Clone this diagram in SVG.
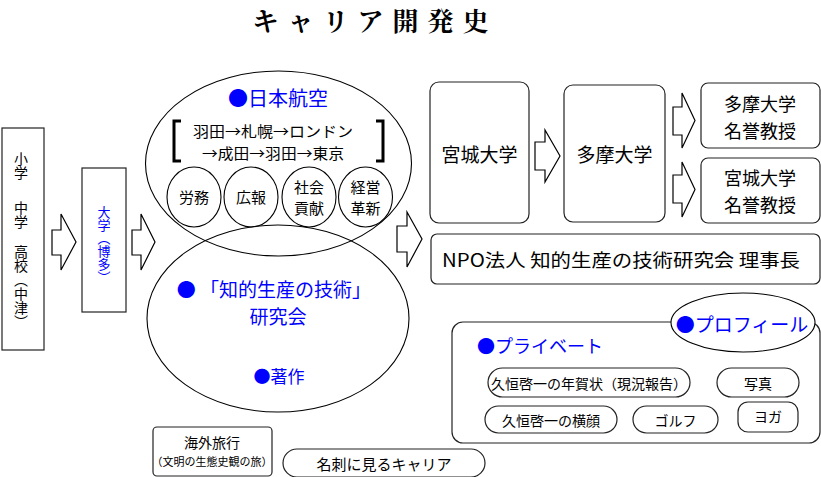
<svg xmlns="http://www.w3.org/2000/svg" width="821" height="477" viewBox="0 0 821 477">
<style>
text{font-family:"Noto Sans CJK JP","Noto Sans",sans-serif;fill:#000;dominant-baseline:central;text-anchor:middle}
.b{fill:#0000ff}
.box{fill:#fff;stroke:#222;stroke-width:1.2}
.ln{fill:none;stroke:#000;stroke-width:1.1}
.arr{fill:#fff;stroke:#000;stroke-width:1.2;stroke-linejoin:miter}
.v{writing-mode:vertical-rl;text-anchor:start;dominant-baseline:auto}
</style>
<rect width="821" height="477" fill="#fff"/>
<text id="title" x="375" y="19" style="font-family:'Noto Serif CJK JP','Noto Sans CJK JP',serif;font-weight:bold;font-size:26px;letter-spacing:9px">キャリア開発史</text>

<g id="connectors">
<path class="arr" d="M52,230 L61,230 L61,214 L76,242 L61,270 L61,255 L52,255 Z"/>
<path class="arr" d="M132,230 L141,230 L141,214 L155,242 L141,270 L141,255 L132,255 Z"/>
<path class="arr" d="M397,226 L407,226 L407,212 L422,239 L407,267 L407,252 L397,252 Z"/>
<path class="arr" d="M535,142 L545,142 L545,130 L560,156 L545,182 L545,170 L535,170 Z"/>
<path class="arr" d="M673,107 L682,107 L682,93 L695,120.5 L682,148 L682,135 L673,135 Z"/>
<path class="arr" d="M673,175 L682,175 L682,162 L695,189.5 L682,217 L682,203 L673,203 Z"/>
</g>

<g id="school">
<rect class="box" x="2" y="128" width="42" height="222"/>
<text class="v" x="21" y="152" style="font-size:14px">小学</text>
<text class="v" x="21" y="201" style="font-size:14px">中学</text>
<text class="v" x="21" y="245" style="font-size:14px">高校（中津）</text>
</g>

<g id="univ">
<rect class="box" x="82" y="168" width="44" height="144"/>
<text class="v b" x="104" y="206" style="font-size:13px">大学（博多）</text>
</g>

<g id="jal">
<ellipse class="ln" cx="278.5" cy="163.5" rx="133" ry="92.5"/>
<text class="b" x="278" y="97" style="font-size:20px">●日本航空</text>
<path d="M181,121 L174,121 L174,161 L181,161 M376,121 L383,121 L383,161 L376,161" fill="none" stroke="#000" stroke-width="3"/>
<text style="font-size:15px"><tspan x="273" y="130" textLength="160" lengthAdjust="spacingAndGlyphs">羽田→札幌→ロンドン</tspan><tspan x="273" y="152" textLength="142" lengthAdjust="spacingAndGlyphs">→成田→羽田→東京</tspan></text>
<ellipse class="ln" cx="194" cy="197" rx="27" ry="30" fill="#fff"/>
<ellipse class="ln" cx="251" cy="197" rx="27" ry="30"/>
<ellipse class="ln" cx="309" cy="197" rx="27" ry="30"/>
<ellipse class="ln" cx="365.5" cy="197" rx="27" ry="30"/>
<text x="194" y="196" style="font-size:15px">労務</text>
<text x="251" y="196" style="font-size:15px">広報</text>
<text style="font-size:15px"><tspan x="309" y="186">社会</tspan><tspan x="309" y="207">貢献</tspan></text>
<text style="font-size:15px"><tspan x="365.5" y="186">経営</tspan><tspan x="365.5" y="207">革新</tspan></text>
</g>

<g id="chiteki">
<ellipse class="ln" cx="278" cy="318.5" rx="131" ry="93.5"/>
<text class="b" style="font-size:19px"><tspan x="274" y="288">● 「知的生産の技術」</tspan><tspan x="278" y="315">研究会</tspan></text>
<text class="b" x="279" y="375" style="font-size:17px">●著作</text>
</g>

<g id="miyagi">
<rect class="box" x="430" y="82" width="99" height="141" rx="9"/>
<text x="479.5" y="153" style="font-size:19px">宮城大学</text>
</g>
<g id="tama">
<rect class="box" x="564" y="85" width="101" height="137" rx="9"/>
<text x="614.5" y="153" style="font-size:19px">多摩大学</text>
</g>
<g id="tama-meiyo">
<rect class="box" x="701" y="83" width="119" height="65" rx="7"/>
<text style="font-size:18px"><tspan x="760" y="103">多摩大学</tspan><tspan x="760" y="130">名誉教授</tspan></text>
</g>
<g id="miyagi-meiyo">
<rect class="box" x="701" y="158" width="119" height="65" rx="7"/>
<text style="font-size:18px"><tspan x="760" y="177">宮城大学</tspan><tspan x="760" y="204">名誉教授</tspan></text>
</g>
<g id="npo">
<rect class="box" x="431" y="234" width="389" height="50" rx="6"/>
<text x="621" y="259" style="font-size:18px" textLength="358" lengthAdjust="spacingAndGlyphs">NPO法人 知的生産の技術研究会 理事長</text>
</g>

<g id="profile">
<rect class="box" x="452" y="322" width="368" height="121" rx="11"/>
<ellipse cx="743" cy="322.5" rx="72" ry="29.5" fill="#fff" stroke="#000" stroke-width="1.1"/>
<text class="b" x="742" y="323" style="font-size:19px">●プロフィール</text>
<text class="b" x="540" y="345" style="font-size:18px">●プライベート</text>
<rect class="box" x="488" y="368" width="202" height="29" rx="14.5"/>
<text x="589" y="382.5" style="font-size:14px">久恒啓一の年賀状（現況報告）</text>
<rect class="box" x="717" y="368" width="82" height="29" rx="14.5"/>
<text x="758" y="382.5" style="font-size:14px">写真</text>
<rect class="box" x="485" y="406" width="132" height="27" rx="13.5"/>
<text x="551" y="419.5" style="font-size:14px">久恒啓一の横顔</text>
<rect class="box" x="633" y="406" width="85" height="27" rx="13.5"/>
<text x="675.5" y="419.5" style="font-size:14px">ゴルフ</text>
<rect class="box" x="738" y="402" width="60" height="30" rx="10"/>
<text x="768" y="416" style="font-size:14px">ヨガ</text>
</g>

<g id="kaigai">
<rect class="box" x="153" y="427" width="119" height="49" rx="4"/>
<text x="212" y="442" style="font-size:14px">海外旅行</text>
<text x="212" y="461" style="font-size:11px">（文明の生態史観の旅）</text>
</g>
<g id="meishi">
<rect class="box" x="283" y="449" width="202" height="28" rx="14"/>
<text x="384" y="463" style="font-size:15px">名刺に見るキャリア</text>
</g>
</svg>
